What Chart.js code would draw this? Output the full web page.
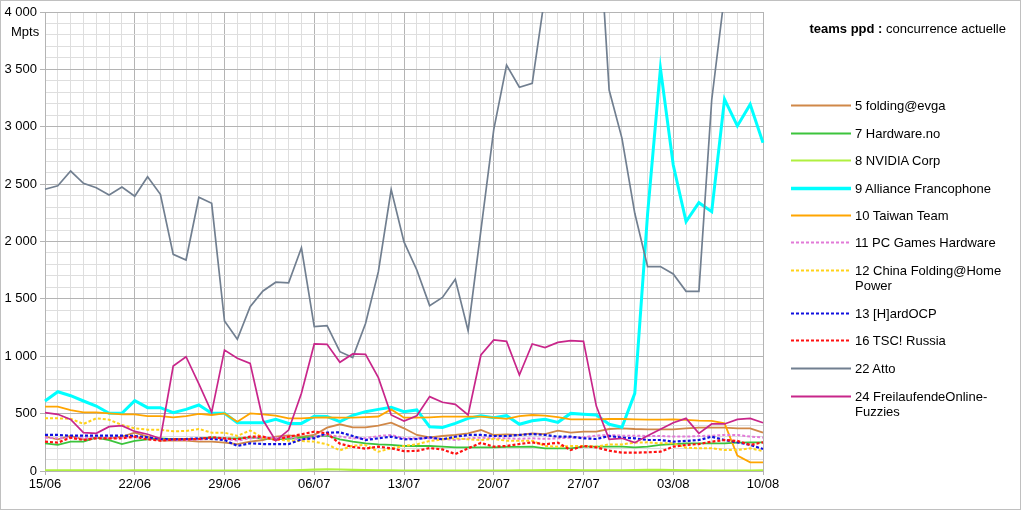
<!DOCTYPE html>
<html>
<head>
<meta charset="utf-8">
<script src="https://cdn.jsdelivr.net/npm/chart.js@4/dist/chart.umd.min.js"></script>
<style>
  html, body { margin: 0; padding: 0; background: #fff; }
  body { width: 1021px; height: 510px; position: relative; overflow: hidden;
         font-family: 'Liberation Sans', Arial, sans-serif; color: #000; }
  #frame { position: absolute; left: 0; top: 0; width: 1019px; height: 508px;
           border: 1px solid #c0c0c0; pointer-events: none; }
  #chart { position: absolute; left: 0; top: 0; }
  #unit { position: absolute; left: 11px; top: 24px; font-size: 13px; line-height: 16px; }
  #title { position: absolute; left: 780px; width: 226px; top: 21px; text-align: right;
           font-size: 13px; line-height: 16px; }
  .item { position: absolute; left: 791px; width: 225px; font-size: 13px; line-height: 15px; }
  .item svg { position: absolute; left: 0; top: 0; }
  .item span { position: absolute; left: 64px; top: 0; white-space: nowrap; }
</style>
</head>
<body>
<canvas id="chart" width="1021" height="510"></canvas>
<div id="unit">Mpts</div>
<div id="title"><b>teams ppd :</b> concurrence actuelle</div>
<div id="legend"></div>
<div id="frame"></div>
<script>
// ---- data (Mpts per day, 15/06 -> 10/08) ----
const days = [];
for (let d = 15; d <= 30; d++) days.push(String(d).padStart(2, '0') + '/06');
for (let d = 1; d <= 31; d++) days.push(String(d).padStart(2, '0') + '/07');
for (let d = 1; d <= 10; d++) days.push(String(d).padStart(2, '0') + '/08');

const teamNames = [
  '5 folding@evga', '7 Hardware.no', '8 NVIDIA Corp', '9 Alliance Francophone',
  '10 Taiwan Team', '11 PC Games Hardware', '12 China Folding@Home Power',
  '13 [H]ardOCP', '16 TSC! Russia', '22 Atto', '24 FreilaufendeOnline-Fuzzies'
];

const evga = [299, 276, 305, 276, 290, 285, 299, 334, 299, 264, 264, 264, 256, 256, 247, 235, 256, 270, 300, 310,
  299, 314, 378, 407, 381, 381, 395, 421, 372, 314, 293, 305, 314, 328, 357, 314, 320, 314, 328,
  322, 352, 334, 343, 343, 366, 372, 366, 363, 363, 363, 372, 378, 378, 378, 372, 372, 334];
const hardwareNo = [241, 227, 256, 256, 290, 270, 235, 262, 276, 285, 278, 278, 282, 293, 285, 285, 290, 285, 278, 280,
  290, 299, 308, 276, 256, 241, 232, 227, 218, 218, 218, 212, 206, 206, 206, 206, 210, 210, 212,
  198, 198, 198, 212, 212, 212, 212, 206, 212, 227, 235, 241, 241, 241, 241, 247, 250, 250];
const nvidia = [6, 6, 6, 6, 5, 4, 3, 5, 6, 6, 5, 4, 3, 3, 3, 3, 4, 4, 5, 6,
  8, 12, 14, 13, 10, 8, 6, 5, 4, 4, 4, 4, 3, 3, 3, 3, 4, 5, 6,
  7, 8, 8, 6, 5, 5, 6, 8, 10, 10, 8, 6, 5, 4, 3, 3, 3, 5];
const alliance = [610, 691, 656, 610, 566, 503, 503, 613, 552, 552, 508, 537, 575, 503, 503, 421, 421, 421, 450, 415,
  415, 476, 474, 430, 485, 517, 537, 555, 517, 532, 386, 380, 415, 459, 482, 465, 482, 407, 438,
  450, 424, 502, 494, 488, 407, 381, 677, 2242, 3509, 2667, 2173, 2338, 2260, 3239, 3007, 3195, 2861];
const taiwan = [561, 561, 531, 511, 511, 502, 494, 494, 479, 479, 468, 479, 497, 488, 502, 430, 502, 494, 482, 459,
  459, 465, 468, 465, 465, 470, 475, 537, 465, 465, 468, 473, 473, 473, 473, 465, 455, 479, 488,
  482, 470, 450, 450, 450, 453, 453, 450, 447, 447, 450, 445, 439, 436, 415, 134, 76, 76];
const pcgh = [290, 285, 290, 285, 290, 290, 290, 295, 285, 275, 270, 270, 275, 280, 280, 265, 285, 290, 290, 295,
  270, 300, 314, 300, 285, 285, 305, 314, 285, 285, 285, 280, 270, 285, 290, 285, 285, 280, 285,
  280, 285, 290, 295, 308, 314, 308, 308, 305, 305, 300, 300, 305, 308, 314, 314, 300, 292];
const chinaFah = [459, 459, 455, 410, 459, 447, 401, 372, 360, 360, 346, 349, 366, 334, 334, 306, 353, 290, 275, 264,
  261, 256, 232, 180, 221, 227, 168, 198, 218, 232, 261, 276, 285, 276, 270, 279, 264, 264, 264,
  218, 212, 218, 218, 212, 232, 232, 247, 250, 241, 241, 203, 198, 198, 183, 183, 198, 174];
const hardOcp = [314, 314, 308, 308, 308, 308, 308, 305, 293, 279, 276, 279, 285, 279, 270, 218, 241, 235, 235, 235,
  276, 285, 334, 337, 305, 270, 285, 299, 276, 279, 293, 276, 299, 314, 314, 305, 305, 314, 322,
  314, 299, 299, 285, 279, 305, 290, 285, 270, 270, 256, 262, 270, 299, 270, 250, 227, 192];
const tscRussia = [256, 247, 290, 270, 285, 285, 285, 299, 276, 264, 276, 276, 279, 293, 285, 276, 299, 299, 270, 299,
  320, 343, 328, 238, 210, 195, 212, 198, 173, 175, 200, 188, 148, 198, 245, 212, 218, 235, 250,
  232, 247, 183, 218, 206, 177, 160, 160, 163, 168, 212, 227, 235, 256, 270, 262, 227, 250];
const atto = [2455, 2486, 2614, 2507, 2469, 2405, 2475, 2394, 2565, 2411, 1888, 1839, 2385, 2333, 1307, 1148, 1432, 1569, 1645, 1640,
  1945, 1258, 1267, 1040, 988, 1286, 1737, 2452, 1996, 1752, 1441, 1513, 1670, 1223, 2100, 2975, 3538, 3344, 3379,
  4150, 4600, 4900, 5100, 5130, 3320, 2899, 2246, 1781, 1781, 1717, 1566, 1566, 3233, 4150, 4400, 4500, 4450];
const fof = [508, 494, 450, 334, 328, 386, 395, 345, 320, 282, 915, 996, 760, 511, 1054, 982, 938, 444, 264, 357,
  677, 1107, 1104, 947, 1020, 1017, 813, 488, 436, 482, 648, 599, 581, 488, 1011, 1142, 1130, 837, 1107,
  1075, 1121, 1136, 1130, 566, 276, 285, 247, 308, 363, 421, 459, 328, 410, 410, 450, 459, 421];

const seriesValues = [evga, hardwareNo, nvidia, alliance, taiwan, pcgh, chinaFah, hardOcp, tscRussia, atto, fof];
const seriesColors = ['#d08848', '#3cc43c', '#b0f040', '#00ffff', '#ffa500', '#e27ad8',
  '#ffd21a', '#1010e0', '#ff1010', '#717f90', '#c8268a'];
const seriesWidths = [1.8, 1.8, 2.2, 3, 1.8, 2, 2, 2.2, 2.2, 1.7, 1.7];
const seriesDashed = [false, false, false, false, false, true, true, true, true, false, false];

// legend text centre positions (y) in pixels
const legendY = [105, 133, 160, 188, 215, 242, 270, 313, 340, 368, 396];
const legendText = ['5 folding@evga', '7 Hardware.no', '8 NVIDIA Corp', '9 Alliance Francophone',
  '10 Taiwan Team', '11 PC Games Hardware', '12 China Folding@Home<br>Power',
  '13 [H]ardOCP', '16 TSC! Russia', '22 Atto', '24 FreilaufendeOnline-<br>Fuzzies'];

const MAJOR = '#b4b4b4';
const MINOR = '#dedede';

// ---- legend (HTML) ----
const legendEl = document.getElementById('legend');
legendText.forEach((txt, i) => {
  const row = document.createElement('div');
  row.className = 'item';
  row.style.top = (legendY[i] - 7.5) + 'px';
  const dash = seriesDashed[i] ? ' stroke-dasharray="3 2"' : '';
  row.innerHTML = '<svg width="60" height="15"><line x1="0" y1="7.5" x2="60" y2="7.5" stroke="' +
    seriesColors[i] + '" stroke-width="' + (i === 3 ? 3.5 : 1.8) + '"' + dash + '/></svg><span>' + txt + '</span>';
  legendEl.appendChild(row);
});

// ---- chart ----
const datasets = seriesValues.map((vals, i) => ({
  label: teamNames[i],
  data: vals,
  borderColor: seriesColors[i],
  backgroundColor: seriesColors[i],
  borderWidth: seriesWidths[i],
  borderDash: seriesDashed[i] ? [3, 2] : [],
  pointRadius: 0,
  tension: 0,
  fill: false,
  order: seriesValues.length - i
}));

const fmt = v => String(v).replace(/\B(?=(\d{3})+(?!\d))/g, ' ');

new Chart(document.getElementById('chart'), {
  type: 'line',
  data: { labels: days, datasets },
  options: {
    responsive: false,
    animation: false,
    layout: { padding: { left: 0, top: 12, right: 258, bottom: 0 } },
    plugins: { legend: { display: false }, tooltip: { enabled: false } },
    scales: {
      x: {
        afterFit: s => { s.height = 39; },
        grid: {
          color: c => (c.index % 7 === 0 ? MAJOR : MINOR),
          tickColor: c => (c.index % 7 === 0 ? MAJOR : 'rgba(0,0,0,0)'),
          tickLength: 4
        },
        border: { color: MAJOR },
        ticks: {
          autoSkip: false, maxRotation: 0, padding: 2,
          color: '#000', font: { family: "'Liberation Sans', Arial", size: 13 },
          callback: (v, i) => (i % 7 === 0 ? days[i] : '')
        }
      },
      y: {
        min: 0, max: 4000,
        afterFit: s => { s.width = 45; },
        grid: {
          color: c => (c.tick && c.tick.value % 500 === 0 ? MAJOR : MINOR),
          tickColor: c => (c.tick && c.tick.value % 500 === 0 ? MAJOR : 'rgba(0,0,0,0)'),
          tickLength: 5
        },
        border: { color: MAJOR },
        ticks: {
          stepSize: 100, autoSkip: false, padding: 3,
          color: '#000', font: { family: "'Liberation Sans', Arial", size: 13 },
          callback: v => (v % 500 === 0 ? fmt(v) : '')
        }
      }
    }
  }
});
</script>
</body>
</html>
